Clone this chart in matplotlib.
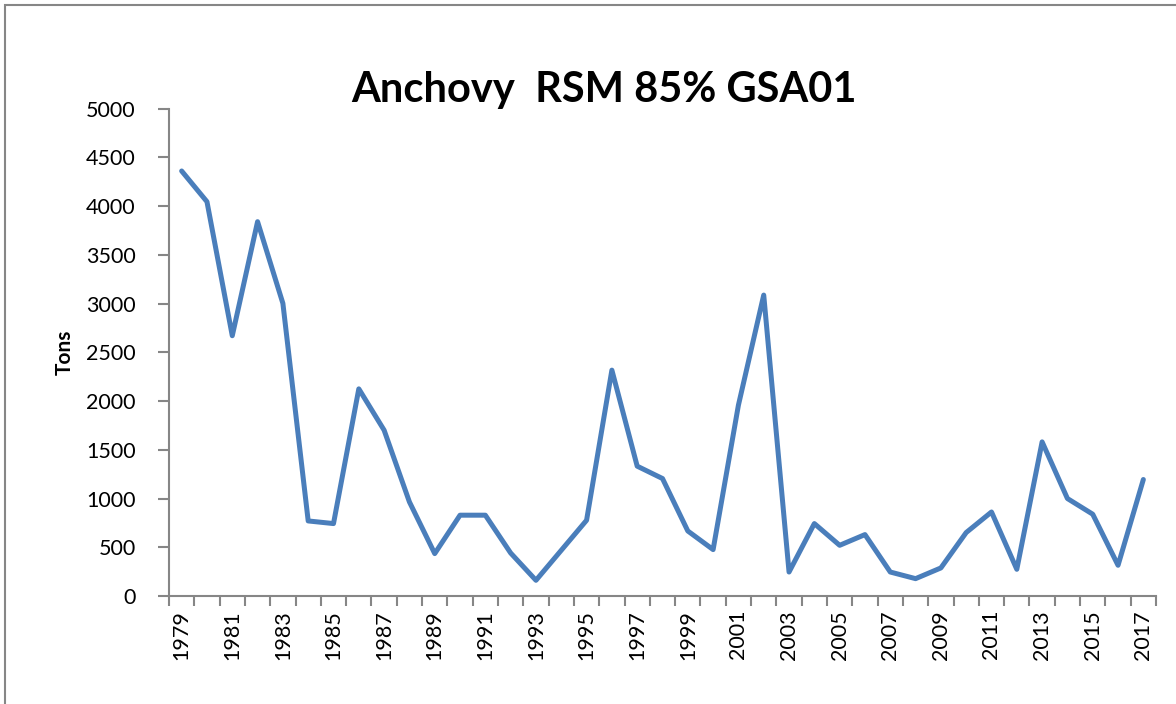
import matplotlib
matplotlib.use('Agg')
import matplotlib.pyplot as plt
from matplotlib.patches import Rectangle
import numpy as np

# anchovy catch in tons
years = list(range(1979, 2018))
tons = [4360, 4045, 2670, 3840, 3002, 770, 743, 2125, 1701, 965,
        435, 829, 829, 441, 161, 469, 777, 2317, 1332, 1205,
        667, 476, 1958, 3087, 246, 743, 520, 630, 246, 178,
        288, 651, 862, 274, 1581, 1000, 839, 315, 1195]
title = 'Anchovy  RSM 85% GSA01'
ylab = 'Tons'

plt.rcParams['font.family'] = ['Lato', 'DejaVu Sans']

fig = plt.figure(figsize=(11.76, 7.04), dpi=100)
# outer chart border like excel (right/bottom edges fall off the image)
fig.patches.append(Rectangle((5/1176, -0.05), 1.1, 1.05 - 5/704,
                             transform=fig.transFigure, fill=False,
                             edgecolor='#868686', linewidth=1.5))

ax = fig.add_axes([169/1176, 1 - 596/704, 987/1176, (596 - 108.6)/704])
x = np.arange(len(years))
ax.plot(x, tons, color='#4A7EBB', linewidth=3.6,
        solid_capstyle='round', solid_joinstyle='round')

ax.set_xlim(-0.5, len(years) - 0.5)
ax.set_ylim(0, 5000)
ax.set_yticks(np.arange(0, 5001, 500))
ax.tick_params(axis='y', labelsize=15.5, length=8, color='#868686', width=1.5, pad=16)

# labels every other year, ticks between categories
ax.set_xticks(x[::2])
ax.set_xticklabels([str(y) for y in years[::2]], rotation=90, fontsize=15.5)
ax.tick_params(axis='x', length=0, pad=10)
ax.set_xticks(np.arange(-0.5, len(years)), minor=True)
ax.tick_params(axis='x', which='minor', length=7, color='#868686', width=1.5)

for s in ['top', 'right']:
    ax.spines[s].set_visible(False)
for s in ['left', 'bottom']:
    ax.spines[s].set_color('#868686')
    ax.spines[s].set_linewidth(1.5)

ax.set_ylabel(ylab, fontsize=15, fontweight='bold', labelpad=8)
fig.text(604/1176, 1 - 90/704, title, ha='center', va='center',
         fontsize=30, fontweight='bold')

fig.savefig('out.png', dpi=100)
